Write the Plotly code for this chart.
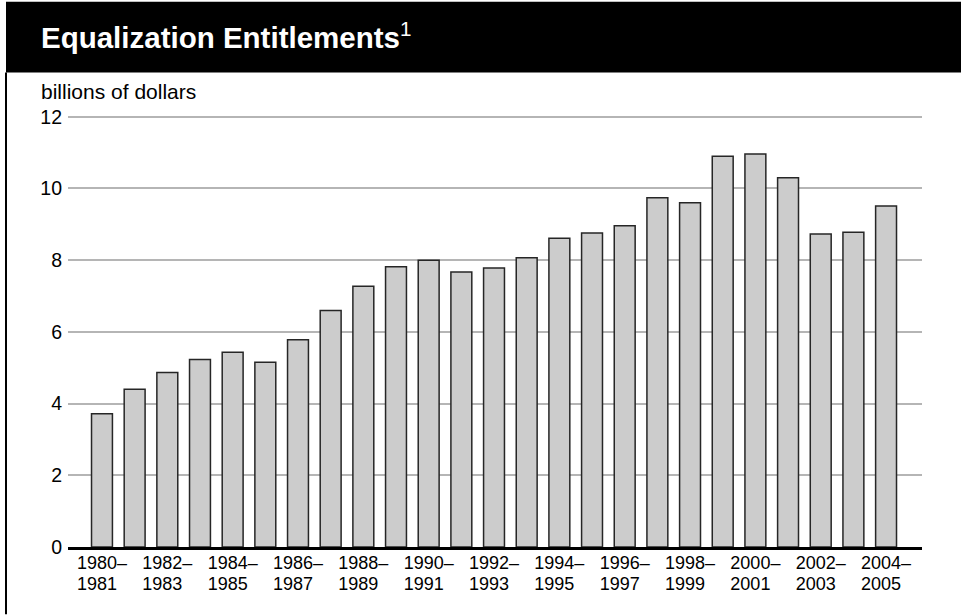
import plotly.graph_objects as go

# ---- data ----
periods = ["1980–1981", "1981–1982", "1982–1983", "1983–1984", "1984–1985",
           "1985–1986", "1986–1987", "1987–1988", "1988–1989", "1989–1990",
           "1990–1991", "1991–1992", "1992–1993", "1993–1994", "1994–1995",
           "1995–1996", "1996–1997", "1997–1998", "1998–1999", "1999–2000",
           "2000–2001", "2001–2002", "2002–2003", "2003–2004", "2004–2005"]
entitlements = [3.72, 4.40, 4.87, 5.23, 5.43, 5.15, 5.78, 6.60, 7.27, 7.82,
                8.00, 7.67, 7.78, 8.07, 8.61, 8.76, 8.96, 9.74, 9.60, 10.90,
                10.96, 10.30, 8.73, 8.78, 9.51]
y_ticks = [0, 2, 4, 6, 8, 10, 12]
title_text = "Equalization Entitlements"
footnote_mark = "1"
y_unit = "billions of dollars"

labelled = periods[::2]
tick_line1 = [p.split("–")[0] + "–" for p in labelled]
tick_line2 = [p.split("–")[1] + "\u2007" for p in labelled]

# ---- layout geometry (pixels) ----
W, H = 961, 616
L, R, B = 68, 922, 547.5
Y12_PX = 116.3
unit_px = (B - Y12_PX) / 12.0
Y_TOP = 12.05                       # a hair above 12 so the top gridline is drawn
T = B - Y_TOP * unit_px


def px_x(p):
    return (p - L) / (R - L)


def px_y(p):
    return (B - p) / (B - T)


FONT = "Liberation Sans, Arial, Helvetica, sans-serif"

fig = go.Figure()
fig.add_trace(go.Bar(
    x=periods, y=entitlements,
    marker=dict(color="#cccccc", line=dict(color="#262626", width=1.5)),
    hoverinfo="x+y", showlegend=False,
))
# invisible trace that carries the second row of period labels
fig.add_trace(go.Scatter(
    x=periods, y=entitlements, xaxis="x2", mode="markers",
    marker=dict(opacity=0), hoverinfo="skip", showlegend=False,
))

xr = [-1.04, 25.10]
fig.update_layout(
    width=W, height=H,
    margin=dict(l=L, r=W - R, t=T, b=H - B, pad=0),
    paper_bgcolor="white", plot_bgcolor="white",
    font=dict(family=FONT, color="black", size=18),
    bargap=0.36,
    xaxis=dict(
        type="category", categoryorder="array", categoryarray=periods,
        range=xr, tickmode="array", tickvals=labelled, ticktext=tick_line1,
        showline=True, linecolor="black", linewidth=3, ticks="",
        showgrid=False, zeroline=False, tickangle=0,
        tickfont=dict(size=18, family=FONT, color="black"),
        ticklabelstandoff=-3,
    ),
    xaxis2=dict(
        type="category", categoryorder="array", categoryarray=periods,
        range=xr, overlaying="x", anchor="y", side="bottom",
        tickmode="array", tickvals=labelled, ticktext=tick_line2,
        showline=False, ticks="", showgrid=False, zeroline=False, tickangle=0,
        tickfont=dict(size=18, family=FONT, color="black"),
        ticklabelstandoff=24,
    ),
    yaxis=dict(
        range=[0, Y_TOP], tickmode="array", tickvals=y_ticks,
        showgrid=True, gridcolor="#b5b5b5", gridwidth=1.5,
        zeroline=False, showline=False, ticks="",
        tickfont=dict(size=19.5, family=FONT, color="black"),
        ticklabelstandoff=5,
    ),
    shapes=[
        dict(type="rect", xref="paper", yref="paper",
             x0=px_x(6), x1=px_x(W), y0=px_y(72), y1=px_y(1),
             fillcolor="black", line=dict(width=0), layer="above"),
        dict(type="line", xref="paper", yref="paper",
             x0=px_x(6), x1=px_x(6), y0=px_y(72), y1=px_y(615),
             line=dict(color="black", width=2)),
    ],
    annotations=[
        dict(text=f"<b>{title_text}</b><sup>{footnote_mark}</sup>",
             xref="paper", yref="paper", x=px_x(39), y=px_y(35),
             xanchor="left", yanchor="middle", showarrow=False,
             font=dict(size=29.5, color="white", family=FONT)),
        dict(text=y_unit, xref="paper", yref="paper",
             x=px_x(39), y=px_y(104), xanchor="left", yanchor="bottom",
             showarrow=False, font=dict(size=21, color="black", family=FONT)),
    ],
)

fig.write_html("out.html", config={"displayModeBar": False},
               post_script="document.body.style.margin='0';")
